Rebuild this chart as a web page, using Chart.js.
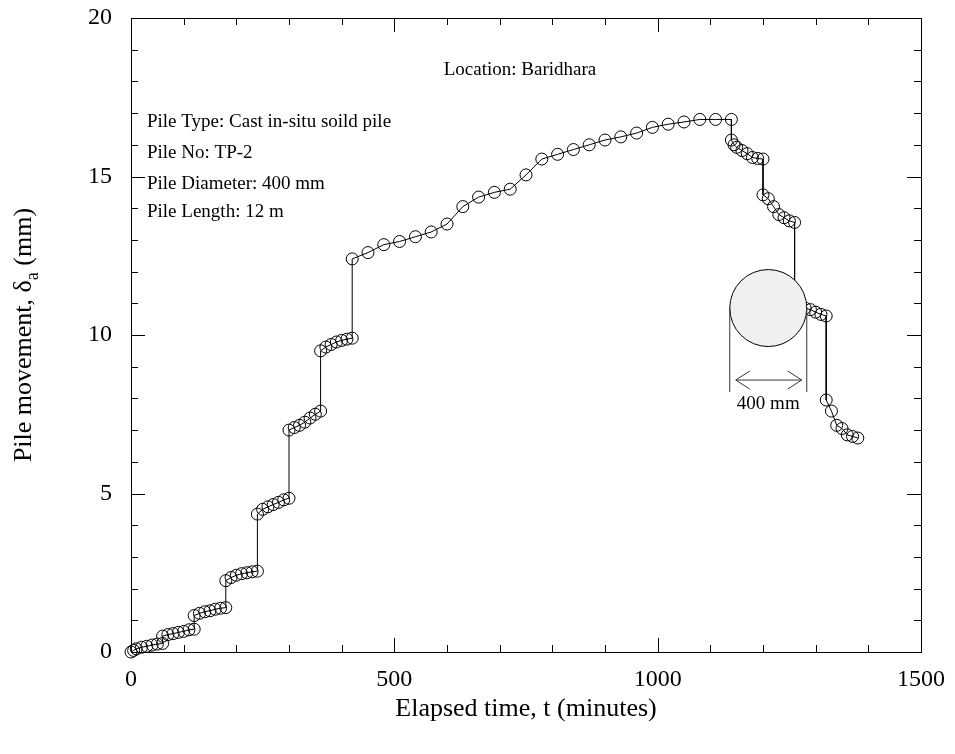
<!DOCTYPE html>
<html>
<head>
<meta charset="utf-8">
<script src="https://cdn.jsdelivr.net/npm/chart.js@4.4.1/dist/chart.umd.min.js"></script>
<style>
  html, body { margin: 0; padding: 0; background: #fff; }
</style>
</head>
<body>
<canvas id="chart" width="955" height="754"></canvas>
<script>
// pile load test: settlement vs elapsed time (loading then unloading steps)
const elapsedTime = [
  0, 5, 10, 20, 30, 40, 50, 60,
  60, 70, 80, 90, 100, 110, 120,
  120, 130, 140, 150, 160, 170, 180,
  180, 190, 200, 210, 220, 230, 240,
  240, 250, 260, 270, 280, 290, 300,
  300, 310, 320, 330, 340, 350, 360,
  360, 370, 380, 390, 400, 410, 420,
  420, 450, 480, 510, 540, 570, 600, 630, 660, 690, 720, 750, 780,
  810, 840, 870, 900, 930, 960, 990, 1020, 1050, 1080, 1110, 1140,
  1140, 1145, 1150, 1160, 1170, 1180, 1190, 1200,
  1200, 1210, 1220, 1230, 1240, 1250, 1260,
  1260, 1270, 1280, 1290, 1300, 1310, 1320,
  1320, 1330, 1340, 1350, 1360, 1370, 1380
];
const pileMovement = [
  0.0, 0.05, 0.1, 0.15, 0.18, 0.22, 0.25, 0.27,
  0.5, 0.55, 0.58, 0.62, 0.65, 0.7, 0.72,
  1.15, 1.22, 1.27, 1.3, 1.35, 1.38, 1.4,
  2.25, 2.35, 2.42, 2.47, 2.5, 2.53, 2.55,
  4.35, 4.5, 4.58, 4.65, 4.72, 4.8, 4.85,
  7.0, 7.08, 7.15, 7.25, 7.38, 7.5, 7.6,
  9.5, 9.62, 9.7, 9.78, 9.83, 9.87, 9.9,
  12.4, 12.6, 12.85, 12.95, 13.1, 13.25, 13.5, 14.05, 14.35, 14.5, 14.6, 15.05, 15.55,
  15.7, 15.85, 16.0, 16.15, 16.25, 16.37, 16.55, 16.65, 16.72, 16.8, 16.8, 16.8,
  16.15, 16.0, 15.92, 15.82, 15.72, 15.6, 15.57, 15.55,
  14.42, 14.3, 14.05, 13.8, 13.7, 13.6, 13.55,
  11.0, 10.9, 10.85, 10.8, 10.72, 10.65, 10.6,
  7.95, 7.6, 7.15, 7.05, 6.85, 6.8, 6.75
];
const xTicks = [0, 500, 1000, 1500];
const yTicks = [0, 5, 10, 15, 20];

const infoLines = [
  "Pile Type: Cast in-situ soild pile",
  "Pile No: TP-2",
  "Pile Diameter: 400 mm",
  "Pile Length: 12 m"
];

const SERIF = "'Liberation Serif', 'DejaVu Serif', serif";
const TITLE_PX = 26;
const TICK_PX = 24;

const points = elapsedTime.map((t, i) => ({ x: t, y: pileMovement[i] }));

// frame, inward ticks, notes, pile sketch, axis titles
const decor = {
  id: "decor",
  afterDatasetsDraw(chart) {
    const { ctx, chartArea: a, scales } = chart;
    const xs = scales.x, ys = scales.y;
    ctx.save();

    // pile cross-section sketch (drawn over the data, like the original)
    const cx = xs.getPixelForValue(1210);
    const cy = ys.getPixelForValue(10.85);
    const r = 38.5;
    ctx.beginPath();
    ctx.arc(cx, cy, r, 0, Math.PI * 2);
    ctx.fillStyle = "#f0f0f0";
    ctx.fill();
    ctx.lineWidth = 1;
    ctx.strokeStyle = "#000";
    ctx.stroke();

    ctx.strokeStyle = "#333";
    ctx.beginPath();
    ctx.moveTo(cx - r, cy); ctx.lineTo(cx - r, cy + 84);
    ctx.moveTo(cx + r, cy); ctx.lineTo(cx + r, cy + 84);
    const ay = cy + 72, x1 = cx - r + 6, x2 = cx + r - 5;
    ctx.moveTo(x1, ay); ctx.lineTo(x2, ay);
    ctx.moveTo(x1 + 14, ay - 9); ctx.lineTo(x1, ay); ctx.lineTo(x1 + 14, ay + 9);
    ctx.moveTo(x2 - 14, ay - 9); ctx.lineTo(x2, ay); ctx.lineTo(x2 - 14, ay + 9);
    ctx.stroke();

    ctx.fillStyle = "#000";
    ctx.font = "19px " + SERIF;
    ctx.textAlign = "center";
    ctx.textBaseline = "alphabetic";
    ctx.fillText("400 mm", cx, cy + 101);

    // frame
    ctx.strokeStyle = "#000";
    ctx.lineWidth = 1;
    ctx.strokeRect(Math.round(a.left) + 0.5, Math.round(a.top) + 0.5,
      Math.round(a.right - a.left), Math.round(a.bottom - a.top));

    // ticks, pointing inward on all four sides
    ctx.beginPath();
    for (let v = 0; v <= 1500; v += 100) {
      const px = Math.round(xs.getPixelForValue(v)) + 0.5;
      const len = v % 500 === 0 ? 14 : 7;
      ctx.moveTo(px, a.bottom); ctx.lineTo(px, a.bottom - len);
      ctx.moveTo(px, a.top); ctx.lineTo(px, a.top + len);
    }
    for (let v = 0; v <= 20; v += 1) {
      const py = Math.round(ys.getPixelForValue(v)) + 0.5;
      const len = v % 5 === 0 ? 14 : 7;
      ctx.moveTo(a.left, py); ctx.lineTo(a.left + len, py);
      ctx.moveTo(a.right, py); ctx.lineTo(a.right - len, py);
    }
    ctx.stroke();

    // notes
    ctx.font = "19px " + SERIF;
    ctx.textAlign = "center";
    ctx.fillText("Location: Baridhara", 520, 75);
    ctx.textAlign = "left";
    const lineY = [127, 158, 189, 217];
    infoLines.forEach((s, i) => ctx.fillText(s, 147, lineY[i]));

    // x title
    ctx.font = TITLE_PX + "px " + SERIF;
    ctx.textAlign = "center";
    ctx.fillText("Elapsed time, t (minutes)", (a.left + a.right) / 2, 716);

    // y title with subscript
    ctx.translate(31, (a.top + a.bottom) / 2);
    ctx.rotate(-Math.PI / 2);
    const p1 = "Pile movement, \u03B4", p2 = "a", p3 = " (mm)";
    const subPx = Math.round(TITLE_PX * 0.7);
    ctx.font = TITLE_PX + "px " + SERIF;
    const w1 = ctx.measureText(p1).width, w3 = ctx.measureText(p3).width;
    ctx.font = subPx + "px " + SERIF;
    const w2 = ctx.measureText(p2).width;
    let sx = -(w1 + w2 + w3) / 2;
    ctx.textAlign = "left";
    ctx.font = TITLE_PX + "px " + SERIF;
    ctx.fillText(p1, sx, 0);
    ctx.font = subPx + "px " + SERIF;
    ctx.fillText(p2, sx + w1, 7);
    ctx.font = TITLE_PX + "px " + SERIF;
    ctx.fillText(p3, sx + w1 + w2, 0);

    ctx.restore();
  }
};

new Chart(document.getElementById("chart"), {
  type: "scatter",
  data: {
    datasets: [{
      data: points,
      showLine: true,
      borderColor: "#000",
      borderWidth: 1,
      pointRadius: 6,
      pointBorderWidth: 1,
      pointBorderColor: "#000",
      pointBackgroundColor: "rgba(0,0,0,0)",
      tension: 0,
      clip: false
    }]
  },
  options: {
    responsive: false,
    animation: false,
    layout: { padding: { top: 18, right: 34, left: 0, bottom: 0 } },
    plugins: { legend: { display: false }, tooltip: { enabled: false } },
    scales: {
      x: {
        type: "linear",
        min: 0, max: 1500,
        afterBuildTicks: s => { s.ticks = xTicks.map(v => ({ value: v })); },
        afterFit: s => { s.height = 102; s.paddingLeft = 0; s.paddingRight = 0; },
        grid: { display: false, drawTicks: false },
        border: { display: false },
        ticks: {
          color: "#000", padding: 13, maxRotation: 0,
          font: { family: SERIF, size: TICK_PX },
          callback: v => String(v)
        }
      },
      y: {
        min: 0, max: 20,
        afterBuildTicks: s => { s.ticks = yTicks.map(v => ({ value: v })); },
        afterFit: s => { s.width = 131; s.paddingTop = 0; s.paddingBottom = 0; },
        grid: { display: false, drawTicks: false },
        border: { display: false },
        ticks: {
          color: "#000", padding: 19,
          font: { family: SERIF, size: TICK_PX },
          callback: v => String(v)
        }
      }
    }
  },
  plugins: [decor]
});
</script>
</body>
</html>
